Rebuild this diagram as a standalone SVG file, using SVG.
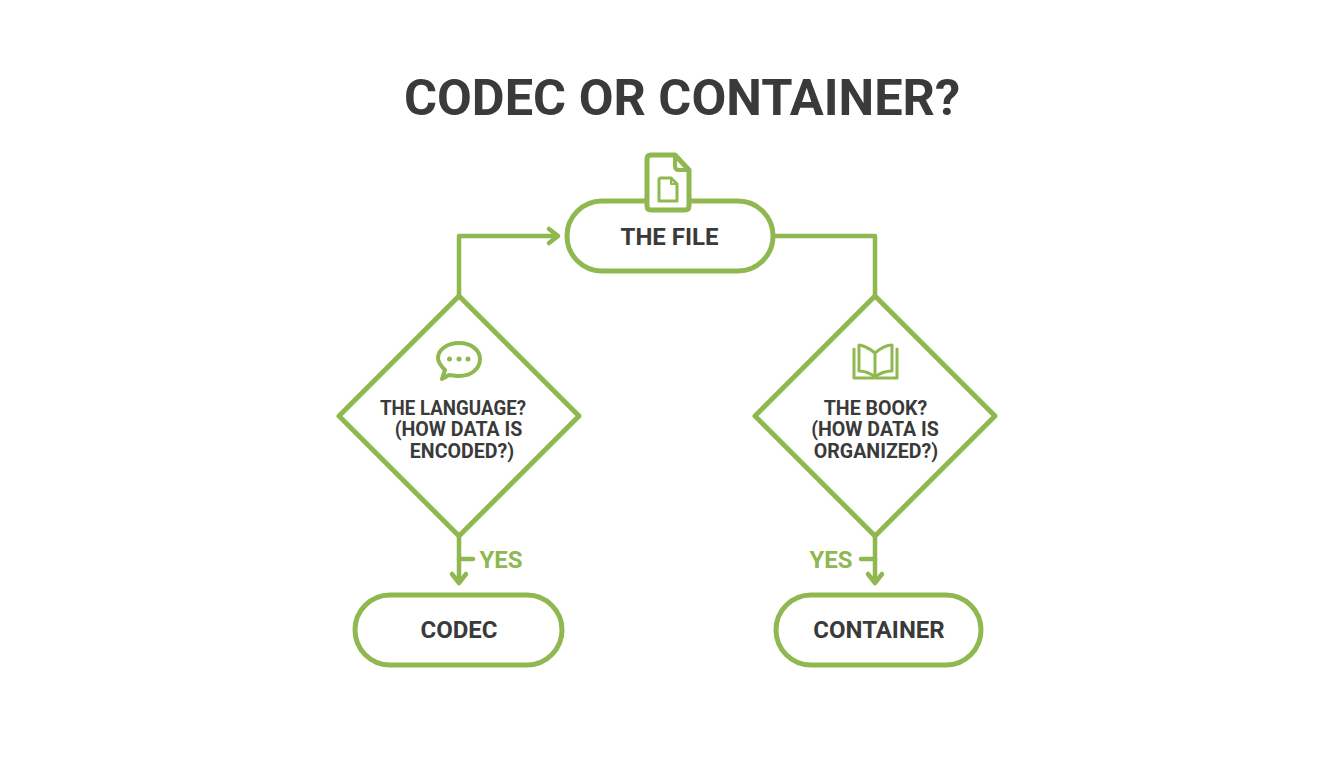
<svg xmlns="http://www.w3.org/2000/svg" width="1344" height="768" viewBox="0 0 1344 768">
<style>
.s{fill:#fff;stroke:#8fb851;stroke-width:5;stroke-linejoin:round}
.c{fill:none;stroke:#8fb851;stroke-width:4.5;stroke-linecap:round;stroke-linejoin:round}
.i{fill:none;stroke:#8fb851;stroke-linejoin:round;stroke-linecap:round}
text{font-family:Roboto,"Liberation Sans",sans-serif;font-weight:700;fill:#3a3a3a;text-anchor:middle}
.l{font-size:24px}
.d{font-size:19.6px}
.y{font-size:24px;fill:#8fb851}
</style>
<rect width="1344" height="768" fill="#fff"/>
<text x="682" y="115" font-size="50.500">CODEC OR CONTAINER?</text>
<g id="connectors">
<path class="c" d="M459 296V236H556"/>
<path class="c" d="M549 229L558 236L549 243"/>
<path class="c" d="M775 236H875V296"/>
<path class="c" d="M459 536V582"/>
<path class="c" d="M452 574L459 583L466 574"/>
<path class="c" d="M459 559H473"/>
<path class="c" d="M875 536V582"/>
<path class="c" d="M868 574L875 583L882 574"/>
<path class="c" d="M875 559H861"/>
</g>
<g id="node-file">
<rect class="s" x="567" y="201" width="206" height="70" rx="35"/>
<path class="s" d="M651 155H675L689 170V206Q689 210 685 210H651Q647 210 647 206V159Q647 155 651 155Z"/>
<path class="i" stroke-width="4" d="M675 156V166Q675 170 679 170H688"/>
<path class="i" stroke-width="3" d="M660 178H671L677 184V201H659V179Z"/>
<path class="i" stroke-width="2" d="M671 178V184H677"/>
<text class="l" x="669.500" y="245">THE FILE</text>
</g>
<g id="node-language">
<path class="s" d="M459 296L579 416L459 536L339 416Z"/>
<path class="i" stroke-width="4" d="M445 370C440 365 438 360 438 358C438 350 447 343 459 343C471 343 480 350 480 359C480 369 471 376 459 376C455 376 452 375 449 375L442 379Z"/>
<circle cx="449.500" cy="359" r="2.500" fill="#8fb851"/>
<circle cx="459" cy="359" r="2.500" fill="#8fb851"/>
<circle cx="468" cy="359" r="2.500" fill="#8fb851"/>
<text class="d" x="453" y="415" textLength="146" lengthAdjust="spacingAndGlyphs">THE LANGUAGE?</text>
<text class="d" x="458.500" y="436">(HOW DATA IS</text>
<text class="d" x="462" y="458">ENCODED?)</text>
</g>
<g id="node-book">
<path class="s" d="M875 296L995 416L875 536L755 416Z"/>
<path class="i" stroke-width="3" d="M875 353C868 347 861 345 859 345V371C864 371 870 373 875 377C880 373 886 371 892 371V345C889 345 882 347 875 353V377"/>
<path class="i" stroke-width="3" d="M854 349V378H897V349"/>
<text class="d" x="875.500" y="415">THE BOOK?</text>
<text class="d" x="875" y="436">(HOW DATA IS</text>
<text class="d" x="876" y="458">ORGANIZED?)</text>
</g>
<g id="node-codec">
<rect class="s" x="355" y="595" width="207" height="70" rx="35"/>
<text class="l" x="459" y="638">CODEC</text>
</g>
<g id="node-container">
<rect class="s" x="776" y="595" width="205" height="70" rx="35"/>
<text class="l" x="879" y="638">CONTAINER</text>
</g>
<text class="y" x="501" y="568">YES</text>
<text class="y" x="831" y="568">YES</text>
</svg>
